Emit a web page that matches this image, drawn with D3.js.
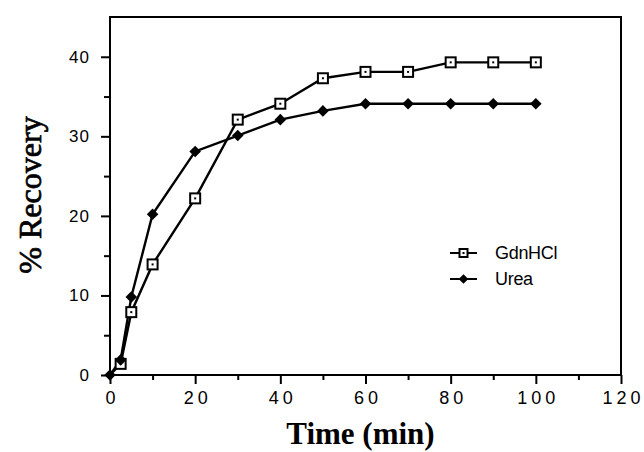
<!DOCTYPE html>
<html>
<head>
<meta charset="utf-8">
<script src="https://cdn.jsdelivr.net/npm/d3@7"></script>
<style>
  body { margin: 0; background: #fff; }
</style>
</head>
<body>
<svg id="chart" width="644" height="452"></svg>
<script>
// time points (min)
const times = [0, 2.5, 5, 10, 20, 30, 40, 50, 60, 70, 80, 90, 100];
// % recovery
const gdnhcl = [0, 1.4, 7.9, 13.9, 22.2, 32.1, 34.1, 37.3, 38.1, 38.1, 39.3, 39.3, 39.3];
const urea = [0, 1.9, 9.8, 20.2, 28.1, 30.1, 32.1, 33.2, 34.1, 34.1, 34.1, 34.1, 34.1];
const xTicks = [0, 20, 40, 60, 80, 100, 120];
const yTicks = [0, 10, 20, 30, 40];
const seriesNames = ["GdnHCl", "Urea"];

const margin = { top: 17, right: 23, bottom: 77, left: 110 };
const width = 644 - margin.left - margin.right;
const height = 452 - margin.top - margin.bottom;

const svg = d3.select("#chart")
  .append("g")
  .attr("transform", `translate(${ margin.left },${ margin.top })`);

const x = d3.scaleLinear().domain([0, 120]).range([0, width]);
const y = d3.scaleLinear().domain([0, 45]).range([height, 0]);

// frame
svg.append("rect")
  .attr("width", width)
  .attr("height", height)
  .attr("fill", "none")
  .attr("stroke", "#000")
  .attr("stroke-width", 2);

// x axis: major every 20, minor every 10
const xAxis = svg.append("g")
  .attr("transform", `translate(0,${ height })`)
  .call(d3.axisBottom(x).tickValues(d3.range(0, 121, 10)).tickSize(8).tickFormat(d => xTicks.includes(d) ? d : ""));
xAxis.select(".domain").remove();
xAxis.selectAll("line")
  .attr("stroke-width", 2)
  .attr("y2", d => xTicks.includes(d) ? 9 : 5);
xAxis.selectAll("text")
  .attr("y", 16)
  .attr("dy", "0.71em")
  .attr("dx", "2px")
  .style("font", "18px 'Liberation Sans', Arial, sans-serif")
  .style("letter-spacing", "4px");

// y axis: major every 10, minor every 5
const yAxis = svg.append("g")
  .call(d3.axisLeft(y).tickValues(d3.range(0, 41, 5)).tickSize(9).tickFormat(d => yTicks.includes(d) ? d : ""));
yAxis.select(".domain").remove();
yAxis.selectAll("line")
  .attr("stroke-width", 2)
  .attr("x2", d => yTicks.includes(d) ? -9 : -6);
yAxis.selectAll("text")
  .attr("x", -20)
  .style("font", "17px 'Liberation Sans', Arial, sans-serif")
  .style("letter-spacing", "1px");

// axis titles
svg.append("text")
  .attr("x", x(60) - 5)
  .attr("y", 444 - margin.top)
  .attr("text-anchor", "middle")
  .style("font", "bold 31px 'Liberation Serif', 'Times New Roman', serif")
  .text("Time (min)");

svg.append("text")
  .attr("transform", `translate(${ 41 - margin.left },${ 195 - margin.top }) rotate(-90)`)
  .attr("text-anchor", "middle")
  .style("font", "32px 'Liberation Serif', 'Times New Roman', serif")
  .attr("stroke", "#000")
  .attr("stroke-width", 0.7)
  .text("% Recovery");

const line = d3.line()
  .x(d => x(d[0]))
  .y(d => y(d[1]));

const gdnData = times.map((t, i) => [t, gdnhcl[i]]);
const ureaData = times.map((t, i) => [t, urea[i]]);

[ureaData, gdnData].forEach(data =>
{
  svg.append("path")
    .datum(data)
    .attr("d", line)
    .attr("fill", "none")
    .attr("stroke", "#000")
    .attr("stroke-width", 2.4);
});

function drawSquare(g, cx, cy, s)
{
  g.append("rect")
    .attr("x", cx - s / 2)
    .attr("y", cy - s / 2)
    .attr("width", s)
    .attr("height", s)
    .attr("fill", "#fff")
    .attr("stroke", "#000")
    .attr("stroke-width", 2);
  g.append("rect")
    .attr("x", cx - 1)
    .attr("y", cy - 1)
    .attr("width", 2)
    .attr("height", 2)
    .attr("fill", "#000");
}

function drawDiamond(g, cx, cy, size)
{
  g.append("path")
    .attr("d", d3.symbol().type(d3.symbolDiamond2).size(size)())
    .attr("transform", `translate(${ cx },${ cy })`)
    .attr("fill", "#000");
}

const markG = svg.append("g");
gdnData.forEach(d =>
{
  if (d[0] > 0) drawSquare(markG, x(d[0]), y(d[1]), 10);
});
ureaData.forEach(d => drawDiamond(markG, x(d[0]), y(d[1]), 85));

// legend
const legend = svg.append("g").attr("transform", `translate(${ 450 - margin.left },${ 253 - margin.top })`);
seriesNames.forEach((name, i) =>
{
  const ly = i * 26;
  legend.append("line")
    .attr("x1", 0).attr("x2", 27)
    .attr("y1", ly).attr("y2", ly)
    .attr("stroke", "#000")
    .attr("stroke-width", 2);
  if (i === 0) drawSquare(legend, 13.5, ly, 8);
  else drawDiamond(legend, 13.5, ly, 60);
  legend.append("text")
    .attr("x", 45)
    .attr("y", ly)
    .attr("dy", "0.36em")
    .style("font", "18px 'Liberation Sans', Arial, sans-serif")
    .style("letter-spacing", "-0.3px")
    .text(name);
});
</script>
</body>
</html>
